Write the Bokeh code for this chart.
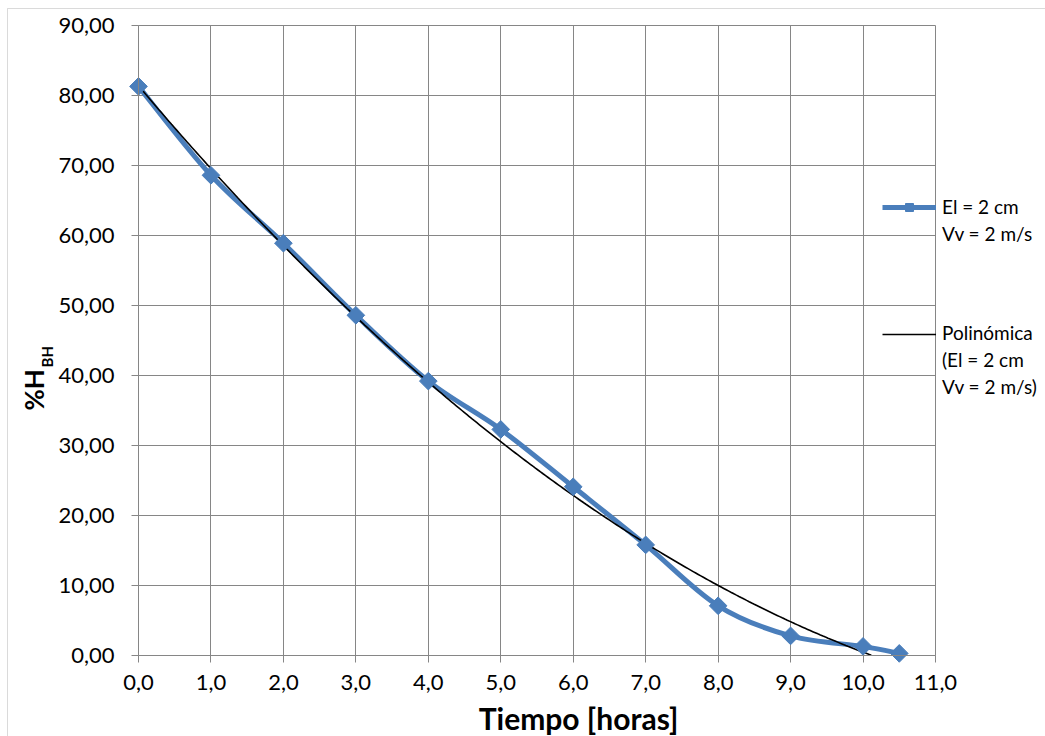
import numpy as np
from bokeh.plotting import figure
from bokeh.models import (Range1d, FixedTicker, CustomJSTickFormatter, Legend,
                          LegendItem, Label, BoxAnnotation, ColumnDataSource)
from bokeh.embed import file_html
from bokeh.resources import INLINE

# ---- data ----
tiempo = [0.0, 1.0, 2.0, 3.0, 4.0, 5.0, 6.0, 7.0, 8.0, 9.0, 10.0, 10.5]
humedad = [81.3, 68.6, 58.9, 48.6, 39.2, 32.3, 24.1, 15.8, 7.1, 2.8, 1.3, 0.3]
x_ticks = [0, 1, 2, 3, 4, 5, 6, 7, 8, 9, 10, 11]
y_ticks = [0, 10, 20, 30, 40, 50, 60, 70, 80, 90]
serie_lines = ["El = 2 cm", "Vv = 2 m/s"]
trend_lines = ["Polinómica", "(El = 2 cm", "Vv = 2 m/s)"]
x_title = "Tiempo [horas]"
y_title_main = "%H"
y_title_sub = "BH"

BLUE = "#4A7EBB"
GRID = "#868686"
FONT = "Lato"

W, H = 1045, 736
# plot area placement in the page (pixels)
PL, PR, PT, PB = 138, 935, 25, 655
X0, X1, Y0, Y1 = 0, 11, 0, 90
sx = (PR - PL) / (X1 - X0)
sy = (PB - PT) / (Y1 - Y0)

def px(xp):  # page pixel -> x data
    return X0 + (xp - PL) / sx

def py(yp):  # page pixel -> y data
    return Y0 + (PB - yp) / sy

p = figure(width=W, height=H, output_backend="svg", toolbar_location=None,
           x_range=Range1d(px(0), px(W)), y_range=Range1d(py(H), py(0)),
           min_border=0)
p.background_fill_color = "white"
p.border_fill_color = "white"
p.outline_line_color = None

for ax in (p.xaxis[0], p.yaxis[0]):
    ax.fixed_location = 0
    ax.axis_line_color = GRID
    ax.major_tick_line_color = GRID
    ax.major_tick_out = 7
    ax.major_tick_in = 0
    ax.minor_tick_line_color = None
    ax.major_label_text_font = FONT
    ax.major_label_text_font_size = "22px"
    ax.major_label_text_color = "black"

p.xaxis.bounds = (X0, X1)
p.yaxis.bounds = (Y0, Y1)
p.xaxis.ticker = FixedTicker(ticks=x_ticks)
p.yaxis.ticker = FixedTicker(ticks=y_ticks)
p.xaxis.formatter = CustomJSTickFormatter(code="return tick.toFixed(1).replace('.', ',');")
p.yaxis.formatter = CustomJSTickFormatter(code="return tick.toFixed(2).replace('.', ',');")
p.xaxis.major_label_standoff = 12
p.yaxis.major_label_standoff = 17

p.xgrid.ticker = FixedTicker(ticks=x_ticks)
p.ygrid.ticker = FixedTicker(ticks=y_ticks)
p.xgrid.grid_line_color = GRID
p.ygrid.grid_line_color = GRID
p.xgrid.bounds = (X0, X1)
p.ygrid.bounds = (Y0, Y1)
p.xgrid.cross_bounds = (Y0, Y1)
p.ygrid.cross_bounds = (X0, X1)

# chart-area border (Excel chart frame)
p.add_layout(BoxAnnotation(left=px(7), top=py(8), right=px(W + 20), bottom=py(H + 20),
                           fill_alpha=0, line_color=GRID, line_width=1, level="underlay"))

# ---- smoothed series (Excel style smoothing via cubic Bezier segments) ----
xs = np.array(tiempo)
ys = np.array(humedad)
n = len(xs)
x0s, y0s, x1s, y1s, cx0, cy0, cx1, cy1 = [], [], [], [], [], [], [], []
for i in range(n - 1):
    pm = i - 1 if i > 0 else i
    pp = i + 2 if i + 2 < n else i + 1
    x0s.append(xs[i]); y0s.append(ys[i])
    x1s.append(xs[i + 1]); y1s.append(ys[i + 1])
    cx0.append(xs[i] + (xs[i + 1] - xs[pm]) / 6.0)
    cy0.append(ys[i] + (ys[i + 1] - ys[pm]) / 6.0)
    cx1.append(xs[i + 1] - (xs[pp] - xs[i]) / 6.0)
    cy1.append(ys[i + 1] - (ys[pp] - ys[i]) / 6.0)
bsrc = ColumnDataSource(dict(x0=x0s, y0=y0s, x1=x1s, y1=y1s,
                             cx0=cx0, cy0=cy0, cx1=cx1, cy1=cy1))
bez = p.bezier(x0="x0", y0="y0", x1="x1", y1="y1", cx0="cx0", cy0="cy0",
               cx1="cx1", cy1="cy1", source=bsrc, line_color=BLUE, line_width=5)

# polynomial (2nd order) trend line fitted to the series, shown down to 0
coef = np.polyfit(xs, ys, 2)
tx = np.linspace(xs.min(), xs.max(), 300)
ty = np.polyval(coef, tx)
keep = ty >= Y0
trend = p.line(tx[keep], ty[keep], line_color="black", line_width=1.6)

pts = p.scatter(tiempo, humedad, marker="square", size=12.5, angle=np.pi / 4,
                fill_color=BLUE, line_color=BLUE)

base = dict(padding=0, margin=0, spacing=0, border_line_color=None,
            background_fill_alpha=0, label_text_font=FONT, label_text_color="black")

def legend_at(items, left, first_center, gw, standoff, row, fs):
    top = first_center - row / 2
    bottom = top + row * len(items)
    return Legend(items=items, location=(left, H - bottom), glyph_width=gw,
                  glyph_height=row, label_standoff=standoff,
                  label_text_font_size=fs, **base)

# legend keys (small marker, line)
p.add_layout(legend_at([LegendItem(label=" ", renderers=[bez, pts])],
                       882, 207, 54, 0, 20, "8px"))
p.add_layout(legend_at([LegendItem(label=" ", renderers=[trend])],
                       882, 334, 54, 0, 20, "8px"))
# legend texts
p.add_layout(legend_at([LegendItem(label=t, renderers=[trend]) for t in serie_lines],
                       942, 206, 0, 0, 27, "19px"))
p.add_layout(legend_at([LegendItem(label=t, renderers=[trend]) for t in trend_lines],
                       942, 332, 0, 0, 27, "19px"))

# ---- axis titles ----
p.add_layout(Label(x=px(578), y=py(717), text=x_title, text_font=FONT,
                   text_font_style="bold", text_font_size="30px", text_color="black",
                   text_align="center", text_baseline="alphabetic"))
p.add_layout(Label(x=px(33), y=py(410), text=y_title_main, angle=np.pi / 2,
                   text_font=FONT, text_font_style="bold", text_font_size="26px",
                   text_color="black", text_align="left", text_baseline="alphabetic"))
p.add_layout(Label(x=px(46), y=py(367), text=y_title_sub, angle=np.pi / 2,
                   text_font=FONT, text_font_style="bold", text_font_size="15px",
                   text_color="black", text_align="left", text_baseline="alphabetic"))

open("out.html", "w").write(file_html(p, INLINE))
